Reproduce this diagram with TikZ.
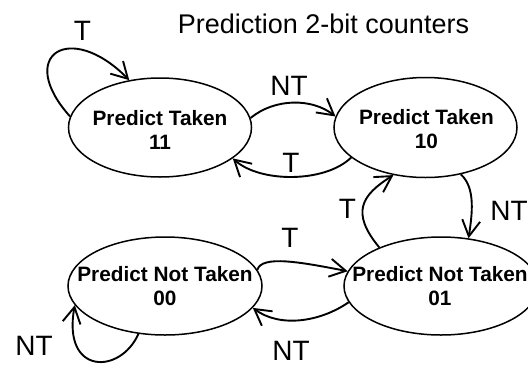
\documentclass[tikz,border=0pt]{standalone}
\usepackage{fontspec}
\setmainfont{Liberation Sans}
\usetikzlibrary{shapes.geometric,arrows.meta}
\begin{document}
\begin{tikzpicture}[x=1pt,y=-1pt,
  state/.style={ellipse, draw, line width=1.5pt, inner sep=0pt},
  statetext/.style={font=\bfseries\fontsize{20.8}{24}\selectfont, align=center, inner sep=0pt},
  edgelabel/.style={font=\fontsize{28}{32}\selectfont, inner sep=0pt, anchor=base},
  titletext/.style={font=\fontsize{27}{32}\selectfont, inner sep=0pt, anchor=base},
  vtip/.tip={Straight Barb[length=16pt,width=18pt,line width=1.9pt]},
  trans/.style={line width=1.9pt, -vtip}]
\useasboundingbox (0,0) rectangle (528,365);

% title
\node[titletext] (title) at (323.5,33) {Prediction 2-bit counters};

% the four counter states
\node[state, minimum width=183pt, minimum height=99pt] (s11) at (160,127.5) {};
\node[state, minimum width=183pt, minimum height=100pt] (s10) at (425.5,127.5) {};
\node[state, minimum width=194pt, minimum height=98pt] (s00) at (165,286) {};
\node[state, minimum width=194pt, minimum height=98pt] (s01) at (441,286) {};

\node[statetext] (t11) at (160,129.5) {Predict Taken\\11};
\node[statetext] (t10) at (426.5,129.5) {Predict Taken\\10};
\node[statetext] (t00) at (165,286.5) {Predict Not Taken\\00};
\node[statetext] (t01) at (440,286.5) {Predict Not Taken\\01};

% transitions
\draw[trans] (s11.173.5) .. controls (15,55) and (70,20) .. (s11.123.2);
\draw[trans] (s11.6.65) .. controls (275,98) and (312,98) .. (s10.173.2);
\draw[trans] (s10.202.5) .. controls (325,183) and (260,183) .. (s11.337.1);
\draw[trans] (s10.307.2) .. controls (476,188) and (472,215) .. (s01.60.4);
\draw[trans] (s01.148.8) .. controls (350,212) and (362,195) .. (s10.236.4);
\draw[trans] (s00.10.1) .. controls (262,255) and (300,262) .. (s01.171.9);
\draw[trans] (s01.190.6) .. controls (320,322) and (280,328) .. (s00.346.1);
\draw[trans] (s00.241.1) .. controls (120,375) and (62,375) .. (s00.192.5);

% transition labels
\node[edgelabel] (l11) at (82.5,40) {T};
\node[edgelabel] (l1110) at (289,95) {NT};
\node[edgelabel] (l1011) at (291,172) {T};
\node[edgelabel] (l0110) at (347.5,218) {T};
\node[edgelabel] (l1001) at (509,220) {NT};
\node[edgelabel] (l0001) at (290,247) {T};
\node[edgelabel] (l0100) at (291,360) {NT};
\node[edgelabel] (l00) at (34,355) {NT};
\end{tikzpicture}
\end{document}
